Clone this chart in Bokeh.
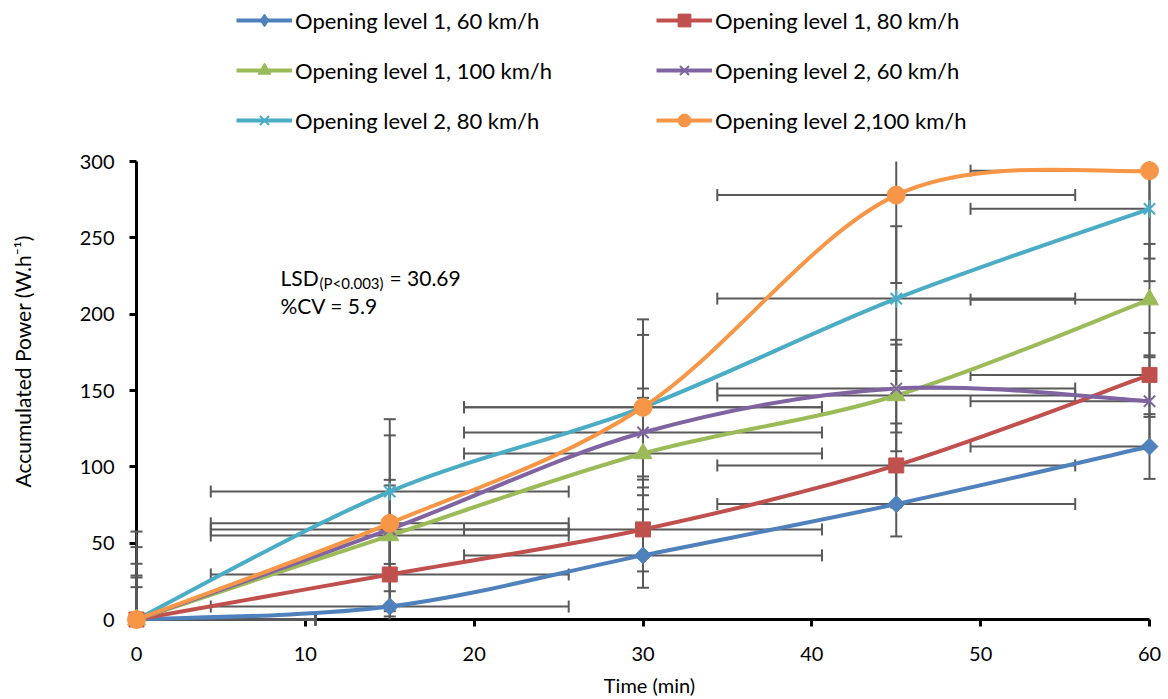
import numpy as np
from bokeh.plotting import figure
from bokeh.layouts import row
from bokeh.models import Range1d, FixedTicker, Legend, LegendItem, Label
from bokeh.embed import file_html
from bokeh.resources import INLINE

# ---------------- data ----------------
time_min = [0, 15, 30, 45, 60]
series_labels = [
    "Opening level 1, 60 km/h",
    "Opening level 1, 80 km/h",
    "Opening level 1, 100 km/h",
    "Opening level 2, 60 km/h",
    "Opening level 2, 80 km/h",
    "Opening level 2,100 km/h",
]
ol1_60 = [0, 8.5, 42.0, 75.6, 113.3]
ol1_80 = [0, 29.5, 59.0, 100.9, 160.2]
ol1_100 = [0, 55.0, 108.7, 146.7, 209.5]
ol2_60 = [0, 59.0, 122.5, 151.3, 143.0]
ol2_80 = [0, 83.8, 139.0, 210.2, 269.0]
ol2_100 = [0, 63.0, 139.0, 278.0, 294.0]
y_err = [21.2, 27.5, 36.5, 28.8, 47.4, 57.6]
x_err = [10.6, 10.6, 10.6, 10.6, 10.6, 10.6]
x_ticks = [0, 10, 20, 30, 40, 50, 60]
y_ticks = [0, 50, 100, 150, 200, 250, 300]
x_title = "Time (min)"
y_title = "Accumulated Power (W.h\u207b\u00b9)"
lsd_main, lsd_sub, lsd_val = "LSD", "(P<0.003)", "= 30.69"
cv_text = "%CV = 5.9"

series_values = [ol1_60, ol1_80, ol1_100, ol2_60, ol2_80, ol2_100]

# ---------------- style ----------------
colors = ["#4F81BD", "#C0504D", "#9BBB59", "#8064A2", "#4BACC6", "#F79646"]
ERR_COLOR = "#595959"
FONT = "Lato"

# page layout: narrow strip for the y title + main chart
W, H = 1168, 699
STRIP = 40
X_MIN, X_MAX, Y_MIN, Y_MAX = 0, 60, 0, 300
PX_PER_X = 1013 / 60.0
PX_PER_Y = 458 / 300.0
LEFT, RIGHT, BOTTOM = 136 - STRIP, 6, 80
MW = W - STRIP
x_range = Range1d(0, (MW - LEFT - RIGHT) / PX_PER_X)
y_range = Range1d(0, (H - BOTTOM) / PX_PER_Y)

# ---------------- y-axis title strip ----------------
pt = figure(width=STRIP, height=H, output_backend="svg", toolbar_location=None,
            title=None, x_range=Range1d(0, STRIP), y_range=Range1d(0, H),
            x_axis_location=None, y_axis_location=None, min_border=0)
pt.outline_line_color = None
pt.grid.visible = False
pt.add_layout(Label(x=22, y=H - 407.5, angle=np.pi / 2, text=y_title,
                    text_align="center", text_baseline="middle", text_font=FONT,
                    text_font_size="21px", text_color="black"))

# ---------------- main chart ----------------
p = figure(width=MW, height=H, output_backend="svg", toolbar_location=None,
           title=None, x_range=x_range, y_range=y_range,
           min_border_left=LEFT, min_border_right=RIGHT, min_border_top=0,
           min_border_bottom=BOTTOM)
p.outline_line_color = None
p.grid.visible = False

for ax, ticks, bnds in ((p.xaxis[0], x_ticks, (X_MIN, X_MAX)),
                        (p.yaxis[0], y_ticks, (Y_MIN, Y_MAX))):
    ax.bounds = bnds
    ax.ticker = FixedTicker(ticks=ticks)
    ax.axis_line_color = "black"
    ax.axis_line_width = 3
    ax.major_tick_line_color = "black"
    ax.major_tick_line_width = 3
    ax.major_tick_out = 7
    ax.major_tick_in = 0
    ax.minor_tick_out = 0
    ax.minor_tick_in = 0
    ax.major_label_text_font = FONT
    ax.major_label_text_font_size = "20px"
    ax.major_label_text_color = "black"
    ax.axis_label_text_font = FONT
    ax.axis_label_text_font_size = "20px"
    ax.axis_label_text_font_style = "normal"
    ax.axis_label_text_color = "black"
p.xaxis[0].major_label_standoff = 20
p.xaxis[0].axis_label = x_title
p.xaxis[0].axis_label_standoff = 9
p.yaxis[0].major_label_standoff = 15


# ---------------- error bars (clipped to the plot area) ----------------
sx0, sy0, sx1, sy1 = [], [], [], []
vcap_x, vcap_y, hcap_x, hcap_y = [], [], [], []
for vals, ey, ex in zip(series_values, y_err, x_err):
    for t, v in zip(time_min, vals):
        lo, hi = v - ey, v + ey
        sx0.append(t); sx1.append(t)
        sy0.append(max(lo, Y_MIN)); sy1.append(min(hi, Y_MAX))
        if lo >= Y_MIN:
            vcap_x.append(t); vcap_y.append(lo)
        if hi <= Y_MAX:
            vcap_x.append(t); vcap_y.append(hi)
        left, right = t - ex, t + ex
        sx0.append(max(left, X_MIN)); sx1.append(min(right, X_MAX))
        sy0.append(v); sy1.append(v)
        if left >= X_MIN:
            hcap_x.append(left); hcap_y.append(v)
        if right <= X_MAX:
            hcap_x.append(right); hcap_y.append(v)

p.segment(sx0, sy0, sx1, sy1, line_color=ERR_COLOR, line_width=2, level="annotation")
p.scatter(vcap_x, vcap_y, marker="dash", size=12, line_color=ERR_COLOR,
          line_width=2, level="annotation")
p.scatter(hcap_x, hcap_y, marker="dash", size=12, angle=np.pi / 2,
          line_color=ERR_COLOR, line_width=2, level="annotation")


# ---------------- smoothed lines (Excel-style cubic Bezier) ----------------
def bezier_parts(xs, ys):
    px = [xs[0]] + list(xs) + [xs[-1]]
    py = [ys[0]] + list(ys) + [ys[-1]]
    out = {k: [] for k in ("x0", "y0", "x1", "y1", "cx0", "cy0", "cx1", "cy1")}
    for i in range(len(xs) - 1):
        out["x0"].append(px[i + 1]); out["y0"].append(py[i + 1])
        out["x1"].append(px[i + 2]); out["y1"].append(py[i + 2])
        out["cx0"].append(px[i + 1] + (px[i + 2] - px[i]) / 6.0)
        out["cy0"].append(py[i + 1] + (py[i + 2] - py[i]) / 6.0)
        out["cx1"].append(px[i + 2] - (px[i + 3] - px[i + 1]) / 6.0)
        out["cy1"].append(py[i + 2] - (py[i + 3] - py[i + 1]) / 6.0)
    return out


line_renderers = []
for vals, c in zip(series_values, colors):
    bp = bezier_parts(time_min, vals)
    r = p.bezier(line_color=c, line_width=4, level="annotation", **bp)
    line_renderers.append(r)

mk = dict(level="annotation")
legend_markers = []
# diamond: narrow diamond (used by the legend) under a square diamond for the plot
d_leg = p.scatter(time_min, ol1_60, marker="diamond", size=14,
                  fill_color=colors[0], line_color=colors[0], **mk)
p.scatter(time_min, ol1_60, marker="square", angle=np.pi / 4, size=12,
          fill_color=colors[0], line_color=colors[0], **mk)
legend_markers.append([d_leg])
legend_markers.append([p.scatter(time_min, ol1_80, marker="square", size=15,
                                 fill_color=colors[1], line_color=colors[1], **mk)])
legend_markers.append([p.scatter(time_min, ol1_100, marker="triangle", size=18,
                                 fill_color=colors[2], line_color=colors[2], **mk)])
legend_markers.append([p.scatter(time_min, ol2_60, marker="x", size=16,
                                 line_color=colors[3], line_width=2, **mk)])
legend_markers.append([
    p.scatter(time_min, ol2_80, marker="x", size=16, line_color=colors[4], line_width=2, **mk),
    p.scatter(time_min, ol2_80, marker="dash", angle=np.pi / 2, size=18,
              line_color=colors[4], line_width=2, **mk)])
legend_markers.append([p.scatter(time_min, ol2_100, marker="circle", size=18,
                                 fill_color=colors[5], line_color=colors[5], **mk)])

# ---------------- legend (2 columns, read row by row as in the reference) ----------------
items = [LegendItem(label=lab, renderers=[lr] + mrs)
         for lab, lr, mrs in zip(series_labels, line_renderers, legend_markers)]
col_major = [items[i] for i in (0, 2, 4, 1, 3, 5)]
legend = Legend(items=col_major, ncols=2, location=(100, 483),
                glyph_width=56, glyph_height=32, label_standoff=3,
                label_width=343, label_height=20, spacing=18, padding=0,
                border_line_color=None, background_fill_alpha=0,
                label_text_font=FONT, label_text_font_size="22px",
                label_text_color="black")
p.add_layout(legend, "center")

# ---------------- annotation ----------------
ann_x = (280 - 136) / PX_PER_X
ann_y1 = (619 - 276.7) / PX_PER_Y
ann_y2 = (619 - 305) / PX_PER_Y
common = dict(text_font=FONT, text_color="black", text_baseline="alphabetic",
              text_align="left")
p.add_layout(Label(x=ann_x, y=ann_y1, text=lsd_main, text_font_size="21px", **common))
p.add_layout(Label(x=ann_x, y=ann_y1, x_offset=39, y_offset=-6, text=lsd_sub,
                   text_font_size="15px", **common))
p.add_layout(Label(x=ann_x, y=ann_y1, x_offset=109, text=lsd_val,
                   text_font_size="21px", **common))
p.add_layout(Label(x=ann_x, y=ann_y2, text=cv_text, text_font_size="21px", **common))

layout = row(pt, p, spacing=0)
open("out.html", "w").write(file_html(layout, INLINE))
